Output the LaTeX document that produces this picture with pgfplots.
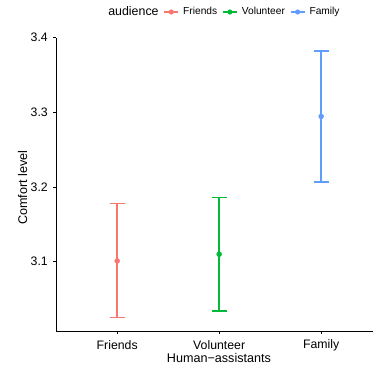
\documentclass[border=0pt]{standalone}
\usepackage{pgfplots}
\pgfplotsset{compat=1.18}
\usepackage{fontspec}
\setmainfont{Liberation Sans}
\definecolor{cF}{RGB}{248,118,109}
\definecolor{cV}{RGB}{0,186,56}
\definecolor{cA}{RGB}{97,156,255}
\begin{document}
\begin{tikzpicture}
\begin{axis}[
  at={(0,0)}, anchor=south west,
  scale only axis, width=317bp, height=293.4bp,
  xmin=0.4, xmax=3.508, ymin=3.0072, ymax=3.4,
  clip=false,
  axis lines=left, axis line style={-, black, line width=0.6bp},
  xtick={1,2,3}, xticklabels={Friends,Volunteer,Family},
  ytick={3.1,3.2,3.3,3.4},
  /pgf/number format/fixed, /pgf/number format/precision=1, /pgf/number format/fixed zerofill,
  /pgf/number format/assume math mode=true,
  tick align=outside, major tick length=3bp,
  major tick style={black, line width=0.6bp},
  xticklabel style={font=\fontsize{12.3bp}{14bp}\selectfont, inner sep=0pt, anchor=center, yshift=-11bp},
  yticklabel style={font=\fontsize{12.3bp}{14bp}\selectfont, inner sep=0pt, anchor=east, xshift=-5bp},
  xlabel={Human\textminus assistants},
  ylabel={Comfort level},
  xlabel style={font=\fontsize{12.6bp}{14bp}\selectfont, at={(axis description cs:0.514,0)}, anchor=center, yshift=-26.5bp, inner sep=0pt},
  ylabel style={font=\fontsize{12.6bp}{14bp}\selectfont, at={(axis description cs:0,0.489)}, anchor=center, yshift=33.5bp, inner sep=0pt},
  legend columns=-1,
  legend style={at={(axis description cs:0.1514,1.0872)}, anchor=west, draw=none, fill=none,
    inner sep=0pt, outer sep=0pt,
    nodes={inner sep=0pt},
    font=\fontsize{10.2bp}{12bp}\selectfont,
    /tikz/every odd column/.append style={column sep=4.3bp},
    /tikz/every even column/.append style={column sep=5bp}},
]
\addlegendimage{empty legend}
\addlegendentry[font=\fontsize{12.4bp}{14bp}\selectfont]{audience\hspace{2.4bp}}

% Friends
\addplot[draw=cF, line width=1.5bp, mark=none, forget plot] coordinates {(1,3.025) (1,3.1776)};
\addplot[draw=cF, line width=1.5bp, mark=none, forget plot] coordinates {(0.925,3.025) (1.075,3.025)};
\addplot[draw=cF, line width=1.5bp, mark=none, forget plot] coordinates {(0.925,3.1776) (1.075,3.1776)};
% Volunteer
\addplot[draw=cV, line width=1.5bp, mark=none, forget plot] coordinates {(2,3.034) (2,3.186)};
\addplot[draw=cV, line width=1.5bp, mark=none, forget plot] coordinates {(1.925,3.034) (2.075,3.034)};
\addplot[draw=cV, line width=1.5bp, mark=none, forget plot] coordinates {(1.925,3.186) (2.075,3.186)};
% Family
\addplot[draw=cA, line width=1.5bp, mark=none, forget plot] coordinates {(3,3.207) (3,3.382)};
\addplot[draw=cA, line width=1.5bp, mark=none, forget plot] coordinates {(2.925,3.207) (3.075,3.207)};
\addplot[draw=cA, line width=1.5bp, mark=none, forget plot] coordinates {(2.925,3.382) (3.075,3.382)};

\addplot[draw=cF, fill=cF, only marks, mark=*, mark size=2.5bp,
  legend image code/.code={\draw[cF, line width=1.3bp] (0bp,0bp) -- (14bp,0bp); \fill[cF] (7bp,0bp) circle (2.3bp);}]
  coordinates {(1,3.101)};
\addlegendentry{Friends}

\addplot[draw=cV, fill=cV, only marks, mark=*, mark size=2.5bp,
  legend image code/.code={\draw[cV, line width=1.3bp] (0bp,0bp) -- (14bp,0bp); \fill[cV] (7bp,0bp) circle (2.3bp);}]
  coordinates {(2,3.110)};
\addlegendentry{Volunteer}

\addplot[draw=cA, fill=cA, only marks, mark=*, mark size=2.5bp,
  legend image code/.code={\draw[cA, line width=1.3bp] (0bp,0bp) -- (14bp,0bp); \fill[cA] (7bp,0bp) circle (2.3bp);}]
  coordinates {(3,3.2945)};
\addlegendentry{Family}
\end{axis}
\pgfresetboundingbox
\path (-56bp,-35bp) rectangle (317bp,331bp);
\end{tikzpicture}
\end{document}
